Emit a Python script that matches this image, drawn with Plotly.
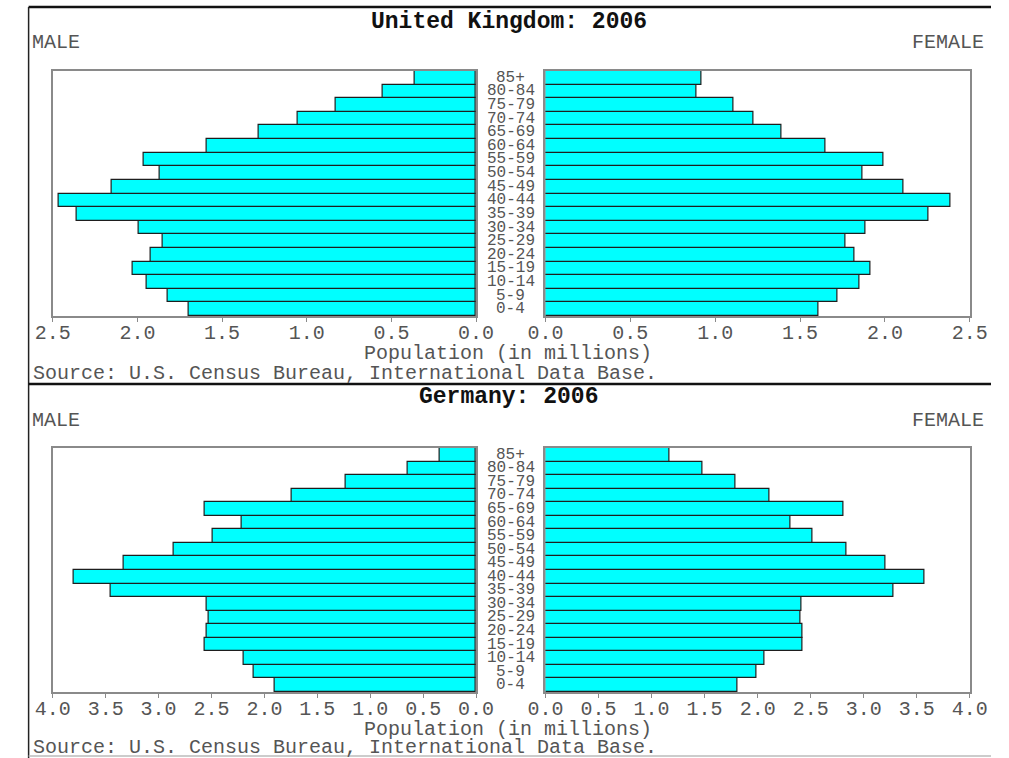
import plotly.graph_objects as go

# ---------------- data ----------------
ages = ["0-4", "5-9", "10-14", "15-19", "20-24", "25-29", "30-34", "35-39",
        "40-44", "45-49", "50-54", "55-59", "60-64", "65-69", "70-74",
        "75-79", "80-84", "85+"]

uk_male = [1.695, 1.821, 1.946, 2.027, 1.923, 1.851, 1.993, 2.358, 2.462,
           2.154, 1.866, 1.965, 1.589, 1.285, 1.054, 0.826, 0.550, 0.360]
uk_female = [1.608, 1.722, 1.849, 1.917, 1.822, 1.765, 1.883, 2.256, 2.385,
             2.110, 1.867, 1.990, 1.650, 1.390, 1.226, 1.106, 0.892, 0.922]

de_male = [1.904, 2.105, 2.196, 2.567, 2.542, 2.530, 2.542, 3.456, 3.806,
           3.332, 2.861, 2.490, 2.217, 2.567, 1.746, 1.230, 0.650, 0.340]
de_female = [1.806, 1.988, 2.061, 2.424, 2.424, 2.403, 2.418, 3.282, 3.576,
             3.206, 2.842, 2.515, 2.312, 2.812, 2.115, 1.788, 1.479, 1.167]

uk_ticks = [0.0, 0.5, 1.0, 1.5, 2.0, 2.5]
de_ticks = [0.0, 0.5, 1.0, 1.5, 2.0, 2.5, 3.0, 3.5, 4.0]

titles = ["United Kingdom: 2006", "Germany: 2006"]
axis_title = "Population (in millions)"
source = "Source: U.S. Census Bureau, International Data Base."

# ---------------- layout helpers ----------------
W, H = 1009, 758
def px(x):
    return x / W
def py(y):
    return 1 - y / H

MONO = "Liberation Mono"
BAR_FILL = "#00FFFF"
BAR_LINE = "#1e1e1e"
BOX = "#8a8a8a"
TXT = "#555555"

fig = go.Figure()

def add_bar(values, xa, ya):
    fig.add_trace(go.Bar(
        y=ages, x=values, orientation="h", xaxis=xa, yaxis=ya,
        marker=dict(color=BAR_FILL, line=dict(color=BAR_LINE, width=1.2)),
        showlegend=False, hovertemplate="%{y}: %{x}<extra></extra>"))

add_bar(uk_male, "x", "y")
add_bar(uk_female, "x2", "y2")
add_bar(de_male, "x3", "y3")
add_bar(de_female, "x4", "y4")

def xaxis(domain, rng, ticks, anchor):
    return dict(domain=domain, range=rng, anchor=anchor,
                tickvals=ticks, ticktext=[f"{t:.1f}" for t in ticks],
                ticks="outside", ticklen=4, tickwidth=1, tickcolor=BOX,
                ticklabelstandoff=-7,
                showline=True, mirror=True, linecolor=BOX, linewidth=1.5,
                showgrid=False, zeroline=False,
                tickfont=dict(family=MONO, size=20, color=TXT))

def yaxis(domain, anchor):
    return dict(domain=domain, anchor=anchor, type="category",
                categoryorder="array", categoryarray=ages,
                range=[-0.5, len(ages) - 0.5],
                showticklabels=False, ticks="",
                showline=True, mirror=True, linecolor=BOX, linewidth=1.5,
                showgrid=False, zeroline=False)

L = [px(36), px(475)]
R = [px(547), px(987)]
uk_y = [py(316), py(71)]
de_y = [py(692), py(448)]

layout = dict(
    width=W, height=H, margin=dict(l=0, r=0, t=0, b=0),
    paper_bgcolor="white", plot_bgcolor="white",
    bargap=0, showlegend=False,
    xaxis=xaxis(L, [2.5, 0], uk_ticks, "y"),
    xaxis2=xaxis(R, [0, 2.5], uk_ticks, "y2"),
    xaxis3=xaxis(L, [4.0, 0], de_ticks, "y3"),
    xaxis4=xaxis(R, [0, 4.0], de_ticks, "y4"),
    yaxis=yaxis(uk_y, "x"),
    yaxis2=yaxis(uk_y, "x2"),
    yaxis3=yaxis(de_y, "x3"),
    yaxis4=yaxis(de_y, "x4"),
)

annotations = []
def note(text, x, y, size=20, color=TXT, xanchor="center", bold=False):
    annotations.append(dict(
        text=f"<b>{text}</b>" if bold else text,
        x=px(x), y=py(y), xref="paper", yref="paper",
        xanchor=xanchor, yanchor="middle", showarrow=False,
        font=dict(family=MONO, size=size, color=color)))

# panel texts
for title, (ty, gy, aty, sy) in zip(
        titles, [(22, 43, 353, 373), (397, 420, 729, 747)]):
    note(title, 509, ty, size=23, color="#111111", bold=True)
    note("MALE", 12, gy, xanchor="left")
    note("FEMALE", 1004, gy, xanchor="right")
    note(axis_title, 508, aty)
    note(source, 13, sy, xanchor="left")

# age labels centred between the two halves
for ya in ("y2", "y4"):
    for a in ages:
        annotations.append(dict(
            text=a, x=px(511), y=a, xref="paper", yref=ya,
            xanchor="center", yanchor="middle", showarrow=False,
            font=dict(family=MONO, size=16, color=TXT)))

layout["annotations"] = annotations

# outer frame lines
shapes = [
    dict(type="line", xref="paper", yref="paper", x0=px(11), x1=1, y0=py(7), y1=py(7),
         line=dict(color="#111111", width=2.5)),
    dict(type="line", xref="paper", yref="paper", x0=px(11), x1=px(11), y0=py(7), y1=0,
         line=dict(color="#222222", width=1.5)),
    dict(type="line", xref="paper", yref="paper", x0=px(11), x1=1, y0=py(384), y1=py(384),
         line=dict(color="#111111", width=2.5)),
    dict(type="line", xref="paper", yref="paper", x0=px(11), x1=1, y0=py(756), y1=py(756),
         line=dict(color="#bbbbbb", width=1.5)),
]
layout["shapes"] = shapes

fig.update_layout(**layout)
fig.write_html(
    "out.html",
    config={"displayModeBar": False},
    post_script="document.body.style.margin='0';document.body.style.overflow='hidden';",
)
